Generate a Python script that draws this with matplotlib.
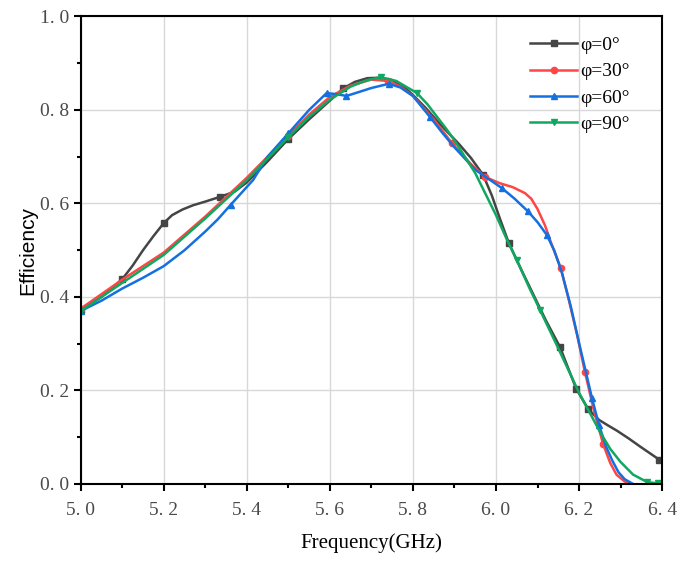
import numpy as np
import matplotlib
matplotlib.use("Agg")
import matplotlib.pyplot as plt
from matplotlib.ticker import MultipleLocator, FuncFormatter

# phi = 0 deg
f0 = [5.00, 5.05, 5.10, 5.125, 5.15, 5.175, 5.20, 5.22, 5.245, 5.27, 5.30, 5.335, 5.37,
      5.40, 5.45, 5.50, 5.55, 5.60, 5.632, 5.66, 5.69, 5.72, 5.75, 5.78, 5.80, 5.83,
      5.87, 5.91, 5.94, 5.969, 5.99, 6.01, 6.031, 6.06, 6.09, 6.12, 6.154, 6.175,
      6.193, 6.222, 6.248, 6.27, 6.291, 6.32, 6.347, 6.37, 6.393, 6.40]
e0 = [0.372, 0.400, 0.438, 0.467, 0.500, 0.530, 0.558, 0.575, 0.587, 0.596, 0.604,
      0.614, 0.625, 0.645, 0.690, 0.738, 0.780, 0.820, 0.846, 0.860, 0.868, 0.869,
      0.864, 0.848, 0.832, 0.805, 0.765, 0.728, 0.697, 0.661, 0.617, 0.566, 0.515,
      0.460, 0.405, 0.350, 0.293, 0.245, 0.204, 0.160, 0.137, 0.125, 0.114, 0.097,
      0.080, 0.066, 0.052, 0.050]
m0 = [0, 2, 6, 11, 15, 18, 29, 32, 36, 38, 39, 46]

# phi = 30 deg
f30 = [5.00, 5.10, 5.20, 5.30, 5.40, 5.50, 5.55, 5.60, 5.65, 5.70, 5.74, 5.77, 5.80,
       5.85, 5.894, 5.94, 5.973, 6.01, 6.04, 6.07, 6.085, 6.10, 6.118, 6.135, 6.156,
       6.175, 6.195, 6.214, 6.235, 6.258, 6.275, 6.29, 6.31, 6.325]
e30 = [0.375, 0.437, 0.495, 0.572, 0.655, 0.745, 0.790, 0.828, 0.852, 0.865, 0.862,
       0.850, 0.830, 0.780, 0.729, 0.684, 0.657, 0.643, 0.635, 0.622, 0.610, 0.588,
       0.553, 0.510, 0.462, 0.395, 0.320, 0.240, 0.160, 0.085, 0.045, 0.020, 0.005,
       0.000]
m30 = [0, 5, 10, 14, 16, 24, 27, 29]

# phi = 60 deg
f60 = [5.00, 5.05, 5.10, 5.15, 5.20, 5.25, 5.30, 5.33, 5.361, 5.415, 5.45, 5.50, 5.55,
       5.592, 5.615, 5.64, 5.672, 5.70, 5.742, 5.77, 5.80, 5.841, 5.87, 5.90, 5.95,
       6.014, 6.045, 6.077, 6.10, 6.122, 6.14, 6.158, 6.18, 6.202, 6.231, 6.248,
       6.265, 6.28, 6.295, 6.31, 6.33]
e60 = [0.370, 0.392, 0.418, 0.441, 0.466, 0.500, 0.540, 0.566, 0.597, 0.650, 0.700,
       0.750, 0.800, 0.836, 0.834, 0.830, 0.839, 0.847, 0.856, 0.848, 0.830, 0.785,
       0.752, 0.720, 0.672, 0.633, 0.610, 0.583, 0.560, 0.533, 0.500, 0.454, 0.380,
       0.294, 0.184, 0.126, 0.080, 0.050, 0.025, 0.010, 0.000]
m60 = [0, 8, 11, 13, 15, 18, 21, 25, 27, 29, 34, 35]

# phi = 90 deg
f90 = [5.00, 5.10, 5.20, 5.30, 5.40, 5.50, 5.55, 5.60, 5.65, 5.69, 5.722, 5.76, 5.81,
       5.835, 5.86, 5.88, 5.90, 5.925, 5.95, 5.975, 6.00, 6.025, 6.05, 6.08, 6.106,
       6.15, 6.20, 6.25, 6.275, 6.30, 6.33, 6.364, 6.39, 6.40]
e90 = [0.370, 0.430, 0.490, 0.568, 0.650, 0.742, 0.785, 0.822, 0.850, 0.864, 0.870,
       0.862, 0.836, 0.812, 0.783, 0.760, 0.735, 0.700, 0.665, 0.620, 0.575, 0.525,
       0.479, 0.420, 0.372, 0.290, 0.195, 0.112, 0.075, 0.047, 0.020, 0.004, 0.001,
       0.000]
m90 = [0, 5, 10, 12, 22, 24, 31, 32]

plt.rcParams['font.family'] = ['Liberation Serif', 'DejaVu Serif']

fig = plt.figure(figsize=(6.84, 5.68), dpi=100)
ax = fig.add_axes([0.118, 0.148, 0.850, 0.823])

ax.plot(f0, e0, color='#454545', lw=1.8, marker='s', ms=4.5, markevery=m0, label='φ=0°')
ax.plot(f30, e30, color='#ff4545', lw=1.8, marker='o', ms=4.5, markevery=m30, label='φ=30°')
ax.plot(f60, e60, color='#1470e0', lw=1.8, marker='^', ms=5, markevery=m60, label='φ=60°')
ax.plot(f90, e90, color='#10a860', lw=1.8, marker='v', ms=5, markevery=m90, label='φ=90°')

ax.set_xlim(5.0, 6.4)
ax.set_ylim(0.0, 1.0)
ax.xaxis.set_major_locator(MultipleLocator(0.2))
ax.xaxis.set_minor_locator(MultipleLocator(0.1))
ax.yaxis.set_major_locator(MultipleLocator(0.2))
ax.yaxis.set_minor_locator(MultipleLocator(0.1))
fmt = FuncFormatter(lambda v, p: '{:.1f}'.format(v).replace('.', '. '))
ax.xaxis.set_major_formatter(fmt)
ax.yaxis.set_major_formatter(fmt)
ax.tick_params(which='major', direction='out', length=5, width=1.5, labelsize=14,
               labelcolor='#4a4a4a', top=False, right=False)
ax.tick_params(axis='x', which='major', pad=8)
ax.tick_params(which='minor', direction='out', length=3, width=1.5, top=False, right=False)
ax.grid(True, which='major', color='#d8d8d8', lw=1.0)
ax.set_axisbelow(True)
for s in ax.spines.values():
    s.set_linewidth(1.5)

ax.set_xlabel('Frequency(GHz)', fontsize=15, labelpad=10)
ax.set_ylabel('Efficiency', fontsize=15, family=['Liberation Sans', 'DejaVu Sans'], labelpad=2)

ax.legend(loc='upper right', bbox_to_anchor=(0.957, 0.974), frameon=False, fontsize=14,
          handlelength=2.4, handletextpad=0.15, labelspacing=0.45, borderaxespad=0.0)

fig.savefig('out.png', dpi=100)
